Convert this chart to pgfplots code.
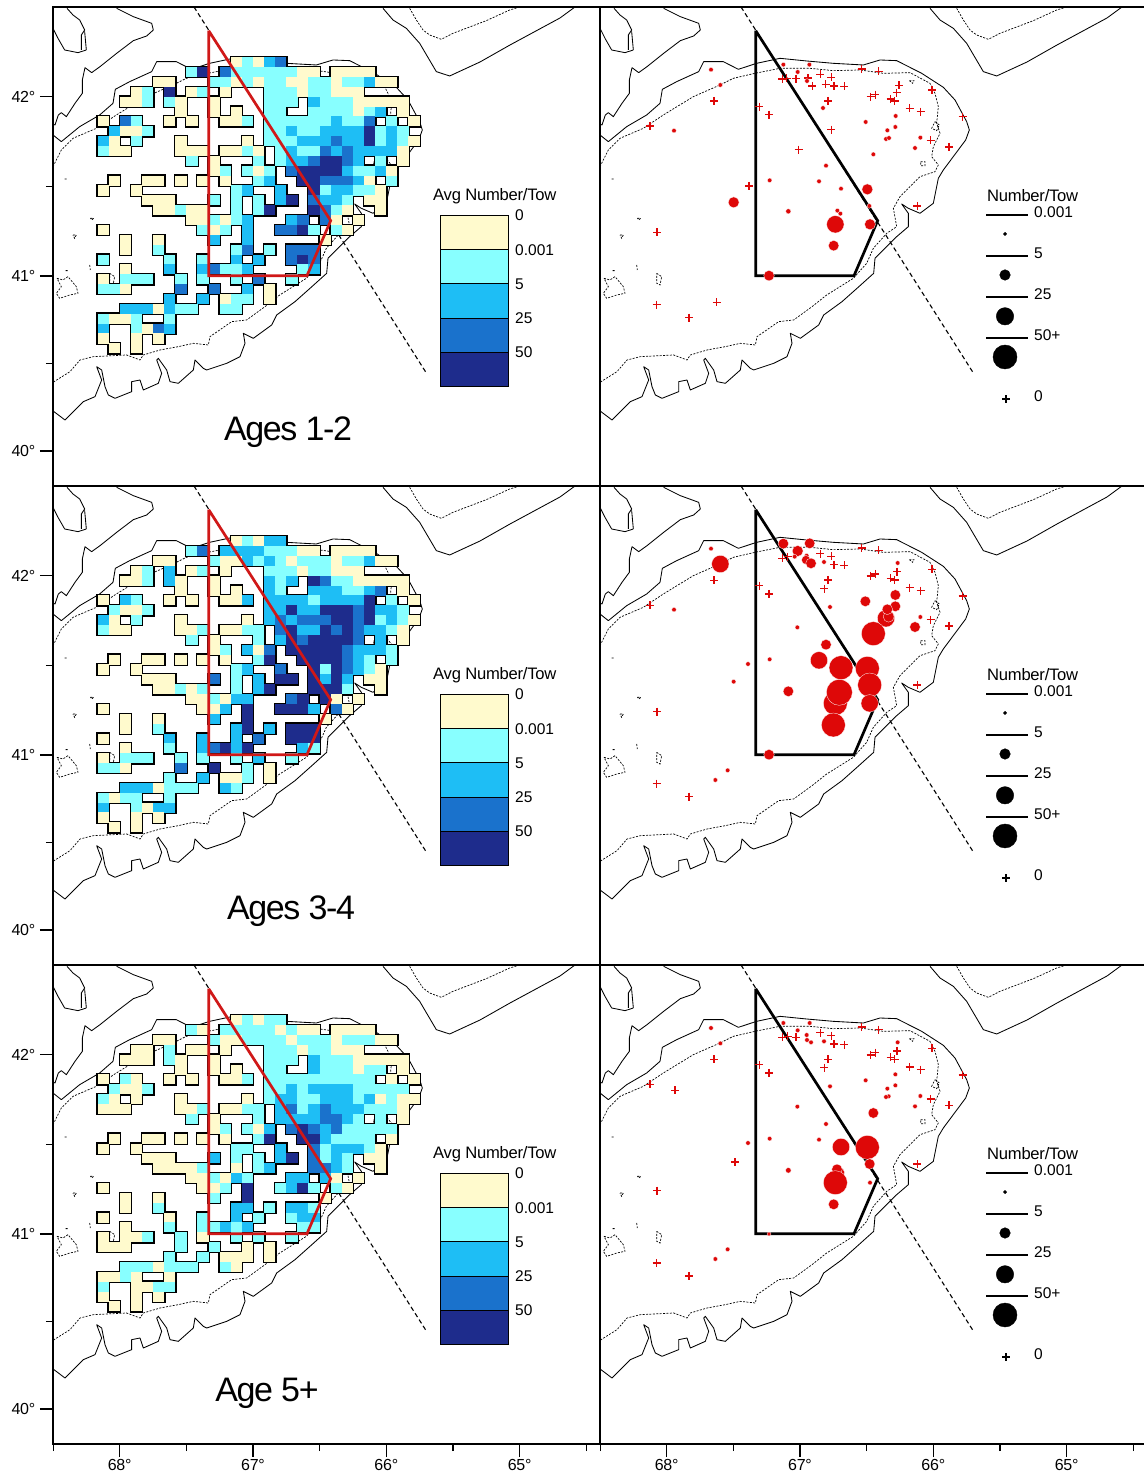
\documentclass[border=0pt]{standalone}
\usepackage{fontspec}
\setmainfont{Liberation Sans}
\newfontfamily\titlefont[LetterSpace=-4]{Liberation Sans}
\newfontfamily\legfont[LetterSpace=-1.5]{Liberation Sans}
\usepackage{pgfplots}
\usepackage{pgfplotstable}
\pgfplotsset{compat=1.18}
\definecolor{cA}{HTML}{FFFACD}
\definecolor{cB}{HTML}{88FFFF}
\definecolor{cC}{HTML}{1EBEF5}
\definecolor{cD}{HTML}{1A72CC}
\definecolor{cE}{HTML}{1E2C8C}
\definecolor{lred}{HTML}{D01818}
\definecolor{dotred}{HTML}{DE0808}
\pgfdeclareplotmark{cell}{\pgfpathrectangle{\pgfpoint{-5.65pt}{-5.03pt}}{\pgfpoint{11.3pt}{10.06pt}}\pgfusepathqfill}
\pgfdeclareplotmark{cellb}{\pgfpathrectangle{\pgfpoint{-5.55pt}{-4.93pt}}{\pgfpoint{11.1pt}{9.87pt}}\pgfusepathqstroke}

\pgfplotstableread[row sep=\\]{x y\\
191 25\\241 50\\296 70\\301 90\\281 108\\241 122\\191 160\\141 200\\116 218\\96 203\\88 240\\88 280\\66 310\\40 350\\25 338\\16 345\\6 375\\0 372\\nan nan\\
0 85\\15 115\\35 150\\75 158\\100 150\\nan nan\\
42 25\\60 45\\80 60\\95 90\\85 105\\85 150\\nan nan\\95 95\\100 150\\nan nan\\
0 405\\25 425\\80 380\\140 345\\180 310\\187 268\\230 245\\296 215\\311 185\\370 185\\415 208\\470 190\\540 175\\620 183\\700 190\\790 195\\840 180\\890 182\\965 220\\1030 262\\1065 300\\1100 365\\1108 390\\1097 420\\1030 510\\1015 535\\1000 610\\960 640\\925 625\\905 612\\925 640\\925 680\\890 710\\860 740\\825 775\\821 820\\771 865\\726 905\\671 945\\656 975\\601 1015\\571 1000\\576 1030\\561 1070\\521 1090\\461 1110\\451 1105\\426 1080\\421 1110\\376 1150\\351 1145\\341 1110\\316 1075\\311 1080\\326 1120\\316 1150\\271 1170\\261 1140\\236 1145\\236 1175\\186 1195\\166 1185\\156 1160\\146 1110\\131 1100\\146 1140\\126 1190\\91 1205\\36 1260\\3 1235\\0 1232\\nan nan\\
990 25\\1020 60\\1060 85\\1100 130\\1150 215\\1190 228\\1281 186\\1371 135\\1521 54\\1566 21\\nan nan\\
35 537\\41 537\\nan nan\\38 812\\44 812\\
}\solidmap
\pgfplotstableread[row sep=\\]{x y\\
0 500\\25 450\\60 415\\130 385\\190 345\\280 290\\360 255\\400 235\\465 220\\540 205\\630 205\\700 212\\780 210\\850 220\\930 218\\990 250\\1005 280\\1015 320\\1010 370\\1020 400\\1000 440\\995 470\\1015 495\\1005 515\\960 530\\900 590\\880 625\\890 680\\860 700\\820 745\\800 790\\760 835\\680 885\\636 920\\581 960\\536 965\\471 1010\\466 1035\\421 1030\\376 1040\\321 1050\\271 1065\\261 1080\\221 1065\\121 1070\\81 1080\\51 1115\\3 1145\\0 1150\\nan nan\\
1070 25\\1090 60\\1110 90\\1130 105\\1165 118\\1200 100\\1300 62\\1370 30\\1400 21\\nan nan\\
12 835\\30 840\\45 830\\70 860\\75 880\\50 885\\20 895\\10 880\\25 860\\12 835\\nan nan\\
170 820\\185 830\\180 855\\170 850\\170 820\\nan nan\\
60 705\\70 705\\65 715\\60 705\\nan nan\\
112 655\\122 655\\117 660\\112 655\\nan nan\\
110 795\\112 810\\nan nan\\
1005 365\\1018 375\\1010 392\\995 385\\1005 365\\nan nan\\
962 485\\975 485\\975 497\\962 497\\962 485\\nan nan\\
928 242\\942 242\\938 250\\928 242\\
}\dotmap
\pgfplotstableread[row sep=\\]{x y\\423 21\\1120 1119\\}\hague
\pgfplotstableread[row sep=\\]{x y\\467 92\\833 662\\762 827\\467 827\\467 92\\}\closure

\pgfplotstableread[row sep=\\]{c r v\\
12 0 0\\13 0 1\\14 0 0\\15 0 2\\16 0 3\\
8 1 1\\9 1 4\\11 1 3\\12 1 1\\13 1 1\\14 1 1\\15 1 1\\16 1 1\\17 1 1\\18 1 0\\19 1 0\\21 1 0\\22 1 0\\23 1 0\\24 1 0\\
5 2 0\\6 2 0\\10 2 1\\11 2 1\\12 2 0\\13 2 1\\14 2 0\\15 2 1\\16 2 1\\17 2 0\\18 2 0\\19 2 1\\20 2 1\\21 2 0\\22 2 1\\23 2 1\\24 2 2\\25 2 0\\26 2 0\\
3 3 0\\4 3 1\\6 3 4\\8 3 0\\9 3 1\\11 3 0\\15 3 1\\16 3 1\\17 3 1\\18 3 0\\19 3 1\\20 3 1\\21 3 0\\22 3 0\\23 3 0\\
2 4 0\\3 4 0\\4 4 1\\6 4 1\\7 4 0\\10 4 0\\15 4 1\\16 4 1\\17 4 1\\19 4 2\\20 4 1\\21 4 1\\22 4 1\\23 4 0\\24 4 0\\25 4 0\\26 4 0\\27 4 0\\
7 5 0\\10 5 0\\12 5 0\\15 5 1\\16 5 1\\19 5 1\\20 5 1\\21 5 1\\22 5 1\\23 5 0\\24 5 1\\25 5 2\\27 5 0\\
0 6 0\\2 6 3\\3 6 1\\6 6 0\\8 6 0\\11 6 0\\12 6 0\\13 6 1\\15 6 1\\16 6 1\\17 6 1\\18 6 1\\19 6 1\\20 6 1\\21 6 2\\22 6 1\\23 6 1\\24 6 3\\26 6 1\\28 6 0\\
1 7 2\\2 7 0\\3 7 0\\4 7 1\\15 7 1\\16 7 1\\17 7 2\\18 7 1\\19 7 1\\20 7 2\\21 7 2\\22 7 2\\23 7 2\\24 7 4\\25 7 1\\26 7 2\\27 7 1\\
0 8 2\\1 8 0\\3 8 1\\7 8 0\\13 8 0\\15 8 1\\16 8 1\\17 8 1\\18 8 2\\19 8 2\\20 8 2\\21 8 3\\22 8 2\\23 8 2\\24 8 4\\25 8 1\\26 8 2\\27 8 1\\28 8 0\\
0 9 1\\1 9 0\\2 9 0\\7 9 0\\8 9 0\\9 9 0\\11 9 0\\12 9 0\\13 9 1\\14 9 0\\16 9 1\\17 9 2\\18 9 1\\19 9 1\\20 9 3\\21 9 2\\22 9 3\\23 9 2\\24 9 2\\25 9 2\\26 9 2\\27 9 0\\
8 10 1\\10 10 0\\14 10 1\\16 10 1\\17 10 2\\18 10 2\\19 10 3\\20 10 4\\21 10 4\\22 10 3\\23 10 2\\25 10 1\\27 10 0\\
10 11 0\\11 11 1\\13 11 1\\14 11 0\\15 11 1\\17 11 3\\18 11 4\\19 11 4\\20 11 4\\21 11 4\\22 11 2\\23 11 1\\24 11 1\\25 11 2\\26 11 0\\
1 12 0\\4 12 0\\5 12 0\\7 12 0\\9 12 0\\11 12 0\\14 12 1\\15 12 2\\18 12 4\\19 12 4\\20 12 3\\21 12 3\\22 12 3\\23 12 2\\24 12 0\\26 12 1\\
0 13 0\\3 13 0\\12 13 1\\13 13 2\\16 13 2\\19 13 4\\20 13 1\\21 13 2\\22 13 2\\23 13 1\\24 13 1\\25 13 0\\
4 14 0\\5 14 0\\6 14 0\\10 14 1\\12 14 1\\14 14 1\\16 14 2\\17 14 4\\19 14 3\\20 14 2\\21 14 2\\22 14 1\\24 14 0\\25 14 0\\
5 15 0\\6 15 0\\7 15 1\\8 15 0\\9 15 0\\12 15 1\\14 15 1\\15 15 4\\19 15 4\\20 15 3\\21 15 1\\22 15 0\\25 15 0\\
8 16 0\\9 16 0\\10 16 1\\11 16 0\\12 16 1\\13 16 2\\17 16 2\\18 16 3\\20 16 3\\21 16 0\\23 16 0\\
0 17 0\\9 17 1\\10 17 0\\11 17 1\\13 17 2\\16 17 3\\17 17 3\\18 17 4\\19 17 1\\21 17 1\\22 17 0\\
2 18 0\\5 18 0\\10 18 2\\13 18 2\\20 18 0\\
2 19 0\\5 19 1\\12 19 1\\13 19 3\\15 19 1\\17 19 3\\18 19 3\\19 19 3\\
0 20 1\\6 20 1\\9 20 1\\12 20 2\\14 20 2\\17 20 3\\18 20 4\\19 20 3\\
2 21 0\\6 21 2\\9 21 2\\10 21 3\\11 21 1\\12 21 1\\13 21 2\\18 21 1\\19 21 2\\
0 22 0\\2 22 1\\3 22 1\\4 22 1\\7 22 1\\9 22 1\\12 22 1\\14 22 3\\17 22 1\\
0 23 1\\1 23 1\\2 23 0\\7 23 3\\10 23 3\\13 23 2\\15 23 0\\
6 24 2\\9 24 2\\11 24 0\\12 24 1\\13 24 1\\15 24 0\\
2 25 2\\3 25 2\\4 25 2\\5 25 0\\6 25 2\\7 25 1\\8 25 1\\11 25 1\\12 25 1\\
0 26 1\\1 26 0\\2 26 0\\3 26 1\\6 26 1\\
0 27 2\\3 27 1\\4 27 0\\5 27 3\\6 27 2\\
0 28 0\\3 28 0\\5 28 0\\
1 29 0\\3 29 0\\
}\cellsA

\pgfplotstableread[row sep=\\]{c r v\\
12 0 0\\13 0 1\\14 0 0\\15 0 2\\16 0 2\\
8 1 1\\9 1 3\\11 1 2\\12 1 2\\13 1 2\\14 1 2\\15 1 1\\16 1 1\\17 1 1\\18 1 0\\19 1 0\\21 1 0\\22 1 0\\23 1 0\\24 1 0\\
5 2 0\\6 2 0\\10 2 1\\11 2 0\\12 2 0\\13 2 2\\14 2 1\\15 2 2\\16 2 1\\17 2 0\\18 2 1\\19 2 1\\20 2 1\\21 2 0\\22 2 1\\23 2 1\\24 2 2\\25 2 0\\26 2 0\\
3 3 0\\4 3 1\\6 3 2\\8 3 0\\9 3 1\\11 3 0\\15 3 1\\16 3 1\\17 3 1\\18 3 0\\19 3 1\\20 3 1\\21 3 0\\22 3 0\\23 3 0\\
2 4 0\\3 4 0\\4 4 1\\6 4 2\\7 4 0\\10 4 0\\15 4 2\\16 4 1\\17 4 2\\19 4 4\\20 4 3\\21 4 1\\22 4 1\\23 4 0\\24 4 0\\25 4 0\\26 4 0\\27 4 0\\
7 5 0\\10 5 0\\12 5 0\\15 5 2\\16 5 1\\19 5 2\\20 5 2\\21 5 2\\22 5 1\\23 5 1\\24 5 2\\25 5 3\\27 5 0\\
0 6 0\\2 6 2\\3 6 1\\6 6 0\\8 6 0\\11 6 0\\12 6 0\\13 6 2\\15 6 2\\16 6 2\\17 6 2\\18 6 2\\19 6 1\\20 6 2\\21 6 2\\22 6 2\\23 6 2\\24 6 4\\26 6 1\\28 6 0\\
1 7 1\\2 7 0\\3 7 0\\4 7 1\\15 7 2\\16 7 2\\17 7 4\\18 7 2\\19 7 2\\20 7 4\\21 7 4\\22 7 4\\23 7 3\\24 7 4\\25 7 2\\26 7 2\\27 7 1\\
0 8 2\\1 8 0\\3 8 1\\7 8 0\\13 8 0\\15 8 2\\16 8 3\\17 8 2\\18 8 3\\19 8 3\\20 8 3\\21 8 4\\22 8 4\\23 8 3\\24 8 4\\25 8 1\\26 8 2\\27 8 1\\28 8 0\\
0 9 1\\1 9 0\\2 9 0\\7 9 0\\8 9 0\\9 9 1\\11 9 0\\12 9 0\\13 9 1\\14 9 1\\16 9 3\\17 9 4\\18 9 2\\19 9 2\\20 9 4\\21 9 3\\22 9 4\\23 9 3\\24 9 2\\25 9 2\\26 9 1\\27 9 0\\
8 10 1\\10 10 0\\14 10 1\\16 10 2\\17 10 4\\18 10 3\\19 10 4\\20 10 4\\21 10 4\\22 10 4\\23 10 3\\25 10 2\\27 10 0\\
10 11 0\\11 11 1\\13 11 2\\14 11 0\\15 11 3\\17 11 4\\18 11 4\\19 11 4\\20 11 4\\21 11 4\\22 11 3\\23 11 2\\24 11 2\\25 11 2\\26 11 1\\
1 12 0\\4 12 0\\5 12 0\\7 12 0\\9 12 0\\11 12 0\\14 12 1\\15 12 4\\18 12 4\\19 12 4\\20 12 4\\21 12 4\\22 12 3\\23 12 2\\24 12 1\\26 12 1\\
0 13 0\\3 13 0\\12 13 1\\13 13 2\\16 13 3\\19 13 4\\20 13 1\\21 13 4\\22 13 3\\23 13 2\\24 13 1\\25 13 0\\
4 14 0\\5 14 0\\6 14 0\\10 14 3\\12 14 1\\14 14 2\\16 14 4\\17 14 4\\19 14 4\\20 14 2\\21 14 4\\22 14 2\\24 14 0\\25 14 0\\
5 15 0\\6 15 0\\7 15 1\\8 15 0\\9 15 1\\12 15 1\\14 15 2\\15 15 4\\19 15 4\\20 15 4\\21 15 4\\22 15 1\\25 15 0\\
8 16 0\\9 16 0\\10 16 1\\11 16 0\\12 16 2\\13 16 2\\17 16 3\\18 16 4\\20 16 4\\21 16 0\\23 16 0\\
0 17 0\\9 17 0\\10 17 0\\11 17 2\\13 17 4\\16 17 4\\17 17 4\\18 17 4\\19 17 2\\21 17 3\\22 17 0\\
2 18 0\\5 18 0\\10 18 2\\13 18 4\\20 18 0\\
2 19 0\\5 19 1\\12 19 2\\13 19 4\\15 19 2\\17 19 4\\18 19 4\\19 19 4\\
0 20 0\\6 20 2\\9 20 2\\12 20 2\\14 20 3\\17 20 4\\18 20 4\\19 20 4\\
2 21 0\\6 21 1\\9 21 2\\10 21 3\\11 21 4\\12 21 2\\13 21 4\\18 21 2\\19 21 1\\
0 22 0\\2 22 1\\3 22 1\\4 22 1\\7 22 1\\9 22 1\\12 22 1\\14 22 2\\17 22 1\\
0 23 1\\1 23 1\\2 23 0\\7 23 3\\10 23 4\\13 23 1\\15 23 0\\
6 24 1\\9 24 2\\11 24 0\\12 24 0\\13 24 1\\15 24 0\\
2 25 2\\3 25 2\\4 25 2\\5 25 0\\6 25 1\\7 25 1\\8 25 1\\11 25 2\\12 25 1\\
0 26 1\\1 26 0\\2 26 1\\3 26 1\\6 26 1\\
0 27 2\\3 27 1\\4 27 0\\5 27 2\\6 27 2\\
0 28 0\\3 28 0\\5 28 0\\
1 29 0\\3 29 0\\
}\cellsB

\pgfplotstableread[row sep=\\]{c r v\\
12 0 0\\13 0 1\\14 0 0\\15 0 1\\16 0 1\\
8 1 1\\9 1 0\\11 1 1\\12 1 1\\13 1 1\\14 1 1\\15 1 1\\16 1 0\\17 1 1\\18 1 0\\19 1 0\\21 1 0\\22 1 0\\23 1 0\\24 1 0\\
5 2 0\\6 2 0\\10 2 1\\11 2 0\\12 2 0\\13 2 1\\14 2 1\\15 2 1\\16 2 1\\17 2 0\\18 2 1\\19 2 1\\20 2 1\\21 2 0\\22 2 1\\23 2 1\\24 2 1\\25 2 0\\26 2 0\\
3 3 0\\4 3 0\\6 3 1\\8 3 0\\9 3 0\\11 3 0\\15 3 1\\16 3 1\\17 3 1\\18 3 0\\19 3 1\\20 3 1\\21 3 0\\22 3 0\\23 3 0\\
2 4 0\\3 4 0\\4 4 0\\6 4 1\\7 4 0\\10 4 0\\15 4 1\\16 4 1\\17 4 1\\19 4 2\\20 4 1\\21 4 1\\22 4 1\\23 4 0\\24 4 0\\25 4 0\\26 4 0\\27 4 0\\
7 5 0\\10 5 0\\12 5 0\\15 5 1\\16 5 1\\19 5 2\\20 5 1\\21 5 1\\22 5 1\\23 5 0\\24 5 1\\25 5 1\\27 5 0\\
0 6 0\\2 6 1\\3 6 0\\6 6 0\\8 6 0\\11 6 0\\12 6 0\\13 6 1\\15 6 1\\16 6 1\\17 6 1\\18 6 1\\19 6 1\\20 6 1\\21 6 1\\22 6 1\\23 6 1\\24 6 1\\26 6 0\\28 6 0\\
1 7 1\\2 7 0\\3 7 0\\4 7 1\\15 7 1\\16 7 1\\17 7 2\\18 7 1\\19 7 2\\20 7 2\\21 7 2\\22 7 2\\23 7 1\\24 7 1\\25 7 1\\26 7 1\\27 7 1\\
0 8 1\\1 8 0\\3 8 0\\7 8 0\\13 8 0\\15 8 1\\16 8 2\\17 8 2\\18 8 1\\19 8 1\\20 8 2\\21 8 2\\22 8 2\\23 8 1\\24 8 2\\25 8 0\\26 8 1\\27 8 0\\28 8 0\\
0 9 0\\1 9 0\\2 9 0\\7 9 0\\8 9 0\\9 9 1\\11 9 0\\12 9 0\\13 9 1\\14 9 1\\16 9 2\\17 9 3\\18 9 1\\19 9 2\\20 9 3\\21 9 2\\22 9 2\\23 9 2\\24 9 1\\25 9 1\\26 9 1\\27 9 0\\
8 10 1\\10 10 0\\14 10 1\\16 10 2\\17 10 2\\18 10 2\\19 10 2\\20 10 3\\21 10 3\\22 10 2\\23 10 1\\25 10 1\\27 10 0\\
10 11 0\\11 11 1\\13 11 1\\14 11 0\\15 11 2\\17 11 3\\18 11 4\\19 11 3\\20 11 2\\21 11 3\\22 11 1\\23 11 1\\24 11 1\\25 11 1\\26 11 1\\
1 12 0\\4 12 0\\5 12 0\\7 12 0\\9 12 0\\11 12 0\\14 12 1\\15 12 4\\18 12 4\\19 12 4\\20 12 2\\21 12 1\\22 12 1\\23 12 1\\24 12 1\\26 12 0\\
0 13 0\\3 13 0\\12 13 1\\13 13 1\\16 13 2\\19 13 3\\20 13 1\\21 13 2\\22 13 2\\23 13 2\\24 13 1\\25 13 0\\
4 14 0\\5 14 0\\6 14 0\\10 14 2\\12 14 1\\14 14 1\\16 14 2\\17 14 4\\19 14 3\\20 14 1\\21 14 2\\22 14 1\\24 14 0\\25 14 0\\
5 15 0\\6 15 0\\7 15 0\\8 15 0\\9 15 1\\12 15 0\\14 15 1\\15 15 2\\19 15 3\\20 15 3\\21 15 2\\22 15 1\\25 15 0\\
8 16 0\\9 16 0\\10 16 1\\11 16 0\\12 16 2\\13 16 1\\17 16 2\\18 16 2\\20 16 2\\21 16 0\\23 16 0\\
0 17 0\\9 17 0\\10 17 0\\11 17 1\\13 17 4\\16 17 1\\17 17 2\\18 17 4\\19 17 1\\21 17 1\\22 17 0\\
2 18 0\\5 18 0\\10 18 1\\13 18 4\\20 18 0\\
2 19 0\\5 19 1\\12 19 2\\13 19 2\\15 19 1\\17 19 2\\18 19 2\\19 19 1\\
0 20 0\\6 20 0\\9 20 1\\12 20 2\\14 20 1\\17 20 1\\18 20 2\\19 20 2\\
2 21 0\\6 21 1\\9 21 1\\10 21 1\\11 21 2\\12 21 1\\13 21 2\\18 21 1\\19 21 1\\
0 22 0\\2 22 0\\3 22 0\\4 22 1\\7 22 1\\9 22 0\\12 22 1\\14 22 1\\17 22 1\\
0 23 0\\1 23 0\\2 23 0\\7 23 1\\10 23 1\\13 23 0\\15 23 0\\
6 24 1\\9 24 1\\11 24 0\\12 24 0\\13 24 0\\15 24 0\\
2 25 1\\3 25 1\\4 25 1\\5 25 0\\6 25 1\\7 25 1\\8 25 1\\11 25 1\\12 25 0\\
0 26 0\\1 26 0\\2 26 1\\3 26 0\\6 26 0\\
0 27 1\\3 27 0\\4 27 0\\5 27 1\\6 27 1\\
0 28 0\\3 28 0\\5 28 0\\
1 29 0\\3 29 0\\
}\cellsC

\pgfplotstableread[row sep=\\]{x y\\
150 378\\342 303\\478 320\\507 344\\547 237\\560 235\\588 236\\624 234\\637 258\\661 223\\694 232\\677 253\\702 258\\733 259\\684 303\\694 389\\596 449\\447 558\\171 697\\170 914\\350 907\\267 953\\952 618\\785 207\\836 214\\812 290\\826 284\\872 297\\884 303\\890 278\\897 256\\996 270\\929 325\\962 335\\1088 350\\992 421\\1047 441\\
}\crossA
\pgfplotstableread[row sep=\\]{x y r\\
333 209 2.3\\361 255 2.3\\222 392 2.3\\550 194 2.3\\628 194 2.3\\593 216 2.3\\621 243 2.3\\669 324 2.3\\797 366 2.3\\887 348 2.3\\886 381 2.3\\862 391 2.3\\858 417 2.3\\867 414 2.3\\961 413 2.3\\945 444 2.3\\820 463 2.3\\678 497 2.3\\657 544 2.3\\723 566 2.3\\509 541 2.3\\565 634 2.6\\712 632 2.3\\721 641 2.3\\808 618 2.3\\802 568 5.5\\401 607 5.5\\706 673 8.7\\810 673 5.5\\701 737 5.3\\507 827 5.3\\
}\dotsA

\pgfplotstableread[row sep=\\]{x y\\
150 379\\342 304\\478 320\\507 345\\547 238\\563 233\\661 224\\694 232\\702 257\\733 259\\684 303\\673 329\\785 207\\836 214\\812 291\\826 285\\872 298\\884 303\\891 278\\996 271\\929 326\\962 335\\1088 351\\992 422\\1047 441\\952 618\\171 698\\170 914\\267 953\\
}\crossB
\pgfplotstableread[row sep=\\]{x y r\\
333 209 2.3\\222 392 2.3\\361 255 8.7\\550 194 5.3\\629 193 5.3\\593 216 5.5\\584 233 2.3\\620 230 2.3\\618 243 4.5\\633 253 5.3\\672 249 2.3\\893 252 2.3\\690 384 2.3\\796 367 5.3\\886 348 5.3\\886 382 5.3\\858 418 8.7\\866 413 5.5\\862 391 5.3\\961 414 2.3\\945 444 5.3\\820 464 12\\592 445 2.3\\678 497 5.3\\657 544 8.7\\723 566 12\\802 568 12\\444 555 2.3\\509 541 2.3\\401 608 2.3\\565 637 5.3\\706 673 12\\718 640 13\\809 618 12\\809 673 8.7\\700 738 12\\507 827 5.3\\383 874 2.3\\346 903 2.3\\
}\dotsB

\pgfplotstableread[row sep=\\]{x y\\
150 379\\342 304\\225 397\\478 320\\507 345\\547 238\\563 235\\588 238\\661 224\\694 233\\702 258\\733 260\\684 304\\673 329\\785 207\\836 215\\812 291\\826 284\\872 298\\884 304\\891 279\\996 271\\929 327\\962 335\\1088 351\\992 423\\1047 442\\952 618\\405 612\\171 698\\170 915\\267 954\\
}\crossC
\pgfplotstableread[row sep=\\]{x y r\\
333 210 2.3\\361 256 2.3\\550 195 2.3\\629 195 2.3\\593 217 2.3\\620 231 2.3\\621 246 2.3\\633 253 2.3\\672 250 2.3\\893 253 2.3\\886 349 2.3\\797 367 2.3\\690 385 2.3\\886 382 2.3\\862 392 2.3\\866 415 2.3\\858 417 2.3\\961 414 2.3\\945 445 2.3\\592 446 2.3\\678 498 2.3\\657 545 2.3\\509 542 2.3\\444 555 2.3\\565 637 2.8\\810 674 2.3\\507 828 2\\383 874 2.3\\346 903 2.3\\820 465 5.3\\723 567 8.7\\802 568 12\\809 618 5.3\\718 644 5.3\\711 634 5.3\\706 674 12\\701 739 5.3\\
}\dotsC

\tikzset{tinyf/.style={font=\fontsize{15.5}{18}\selectfont}}
\pgfplotsset{
 panel/.style={scale only axis,width=547pt,height=479pt,xmin=0,xmax=1641,ymin=21,ymax=1458,y dir=reverse,
   unbounded coords=jump,clip mode=individual,
   axis line style={line width=1.3pt},
   tick style={black,line width=1.3pt},major tick length=13pt,minor tick length=7pt,tick align=outside,
   xtick=\empty,ytick=\empty,
   tick label style={font=\legfont\fontsize{16}{18}\selectfont,inner sep=2pt}},
 bottomticks/.style={xtick={200,600,1000,1400},xticklabels={68°,67°,66°,65°},minor xtick={2,400,800,1200,1600},xtick pos=lower,xticklabel pos=lower},
 leftticks/.style={ytick={290,828,1353},yticklabels={42°,41°,40°},minor ytick={560,1090},ytick pos=left,yticklabel pos=left,yticklabel style={xshift=-2.5pt}},
 gridcell/.style={x filter/.expression={150.65+33.3*x},y filter/.expression={186.8+29.6*y}},
}
\newcommand\mapbase{%
 \addplot[black,line width=.85pt,line join=round,forget plot] table[x=x,y=y]{\solidmap};
 \addplot[black,line width=.7pt,dash pattern=on 2pt off 1.4pt,forget plot] table[x=x,y=y]{\dotmap};
 \addplot[black,line width=1.1pt,dash pattern=on 4.5pt off 3pt,forget plot] table[x=x,y=y]{\hague};
}
\newcommand\cellplot[1]{%
 \addplot[only marks,mark=cellb,mark options={solid,draw=black,line width=2.7pt},gridcell,forget plot] table[x=c,y=r]{#1};
 \addplot[scatter,only marks,scatter src=explicit symbolic,gridcell,forget plot,
   scatter/classes={0={mark=cell,fill=cA},1={mark=cell,fill=cB},2={mark=cell,fill=cC},3={mark=cell,fill=cD},4={mark=cell,fill=cE}}]
   table[x=c,y=r,meta=v]{#1};
 \addplot[lred,line width=2.7pt,line join=miter,forget plot] table[x=x,y=y]{\closure};
 \draw[black,line width=.9pt,fill=cA] (axis cs:1161,645) rectangle (axis cs:1365,747);
 \draw[black,line width=.9pt,fill=cB] (axis cs:1161,747) rectangle (axis cs:1365,849);
 \draw[black,line width=.9pt,fill=cC] (axis cs:1161,849) rectangle (axis cs:1365,954);
 \draw[black,line width=.9pt,fill=cD] (axis cs:1161,954) rectangle (axis cs:1365,1056);
 \draw[black,line width=.9pt,fill=cE] (axis cs:1161,1056) rectangle (axis cs:1365,1158);
 \node[anchor=west,inner sep=0pt,font=\legfont\fontsize{16.6}{18}\selectfont] at (axis cs:1140,588) {Avg Number/Tow};
 \node[anchor=west,inner sep=0pt,tinyf] at (axis cs:1386,646) {0};
 \node[anchor=west,inner sep=0pt,tinyf] at (axis cs:1386,751) {0.001};
 \node[anchor=west,inner sep=0pt,tinyf] at (axis cs:1386,853) {5};
 \node[anchor=west,inner sep=0pt,tinyf] at (axis cs:1386,955) {25};
 \node[anchor=west,inner sep=0pt,tinyf] at (axis cs:1386,1057) {50};
}
\newcommand\dotplot[2]{%
 \addplot[black,line width=2.7pt,line join=miter,forget plot] table[x=x,y=y]{\closure};
 \addplot[only marks,mark=+,mark size=4,mark options={draw=dotred,line width=1.5pt},forget plot] table[x=x,y=y]{#1};
 \addplot[scatter,only marks,mark=*,point meta=x,forget plot,scatter/use mapped color={draw=white,fill=dotred},mark options={line width=.3pt},
   visualization depends on={\thisrow{r}\as\rad},scatter/@pre marker code/.append style={/tikz/mark size=\rad}] table[x=x,y=y]{#2};
 \draw[black,line width=1.1pt] (axis cs:1158,645)--(axis cs:1284,645) (axis cs:1158,768)--(axis cs:1284,768) (axis cs:1158,891)--(axis cs:1284,891) (axis cs:1158,1014)--(axis cs:1284,1014);
 \addplot[only marks,mark=*,mark size=1.7,black,forget plot] coordinates {(1215,702)};
 \addplot[only marks,mark=*,mark size=5.3,black,forget plot] coordinates {(1215,825)};
 \addplot[only marks,mark=*,mark size=8.7,black,forget plot] coordinates {(1215,949)};
 \addplot[only marks,mark=*,mark size=12,black,forget plot] coordinates {(1215,1071)};
 \addplot[only marks,mark=+,mark size=3.6,mark options={line width=1.4pt},black,forget plot] coordinates {(1218,1197)};
 \node[anchor=west,inner sep=0pt,font=\legfont\fontsize{16.6}{18}\selectfont] at (axis cs:1161,588) {Number/Tow};
 \node[anchor=west,inner sep=0pt,tinyf] at (axis cs:1302,637) {0.001};
 \node[anchor=west,inner sep=0pt,tinyf] at (axis cs:1302,760) {5};
 \node[anchor=west,inner sep=0pt,tinyf] at (axis cs:1302,883) {25};
 \node[anchor=west,inner sep=0pt,tinyf] at (axis cs:1302,1006) {50+};
 \node[anchor=west,inner sep=0pt,tinyf] at (axis cs:1302,1189) {0};
}
\begin{document}
\begin{tikzpicture}
\useasboundingbox (0pt,0pt) rectangle (1143pt,1479pt);
% left column
\begin{axis}[panel,leftticks,at={(53pt,1472pt)},anchor=north west]
\mapbase \cellplot{\cellsA}
\node[font=\titlefont\fontsize{34}{38}\selectfont] at (axis cs:705,1296) {Ages 1-2};
\end{axis}
\begin{axis}[panel,leftticks,at={(53pt,993pt)},anchor=north west]
\mapbase \cellplot{\cellsB}
\node[font=\titlefont\fontsize{34}{38}\selectfont] at (axis cs:714,1296) {Ages 3-4};
\end{axis}
\begin{axis}[panel,leftticks,bottomticks,at={(53pt,514pt)},anchor=north west]
\mapbase \cellplot{\cellsC}
\node[font=\titlefont\fontsize{34}{38}\selectfont] at (axis cs:642,1305) {Age 5+};
\end{axis}
% right column
\begin{axis}[panel,at={(600pt,1472pt)},anchor=north west]
\mapbase \dotplot{\crossA}{\dotsA}
\end{axis}
\begin{axis}[panel,at={(600pt,993pt)},anchor=north west]
\mapbase \dotplot{\crossB}{\dotsB}
\end{axis}
\begin{axis}[panel,bottomticks,at={(600pt,514pt)},anchor=north west]
\mapbase \dotplot{\crossC}{\dotsC}
\end{axis}
\end{tikzpicture}
\end{document}
